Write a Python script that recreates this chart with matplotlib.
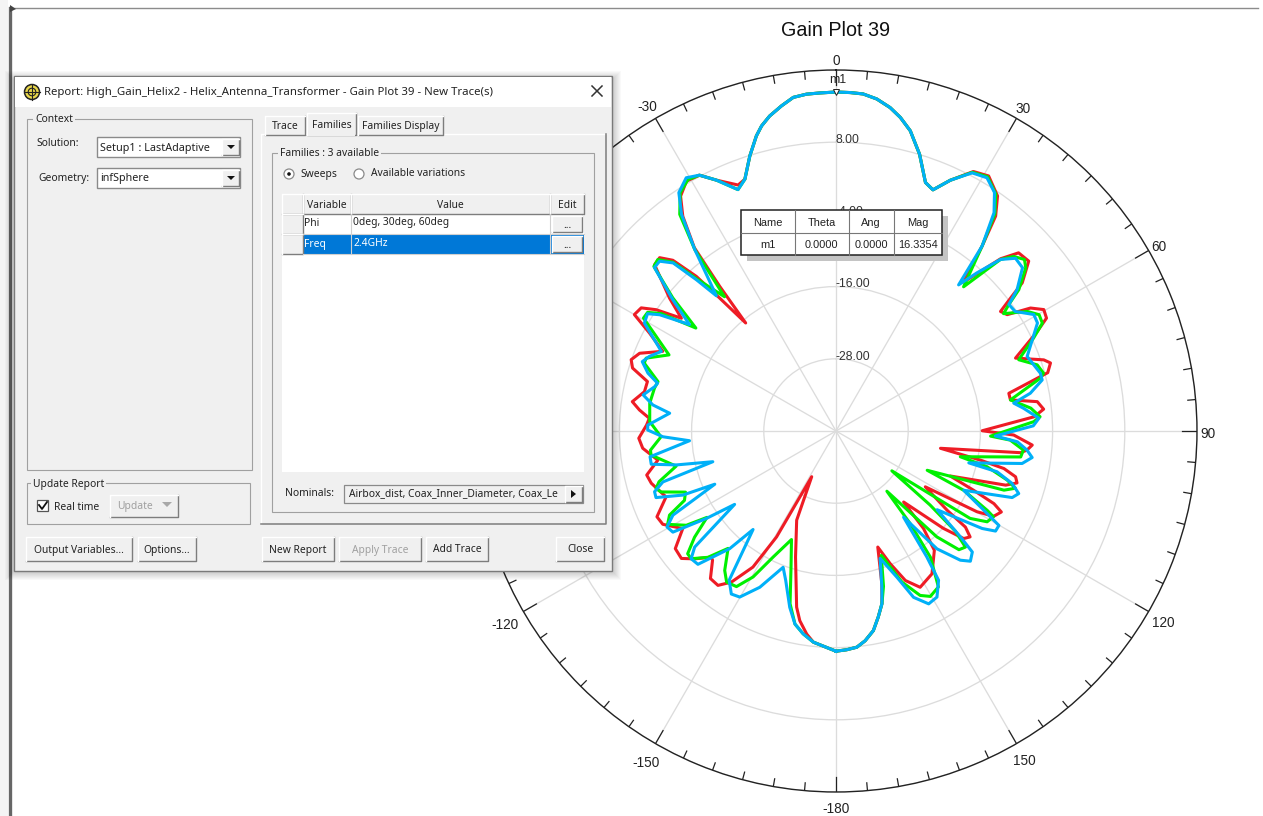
import numpy as np
import matplotlib
matplotlib.use("Agg")
import matplotlib.pyplot as plt
from matplotlib.patches import Rectangle, Circle, Polygon

plt.rcParams['font.family'] = ['Liberation Sans', 'DejaVu Sans']

# gain traces, theta in deg, gain in dB
# the three phi cuts overlap around theta 0 and theta 180
low_theta = [-180, -177.5, -173.9]
low_gain = [-3.4, -4, -4.7]
top_theta = [-19.9, -17.4, -15.1, -13.7, -11.9, -9.5, -7.3, -5, -2.7, 0, 2.4, 4.6, 7, 9.5, 11.6, 13.9, 15.3, 16.8, 19.8, 21.9, 24.5]
top_gain = [4.5, 7.9, 10.8, 12.2, 13.5, 14.8, 15.9, 16.2, 16.25, 16.34, 16.3, 16.2, 15.6, 14.5, 13.2, 11.4, 9.7, 8.05, 3.9, 3.2, 5.8]
end_theta = [165.1, 167.2, 169.4, 172.1, 174.5, 177.2, 180]
end_gain = [-10.3, -8.3, -6.25, -4.8, -3.9, -3.6, -3.4]

red_left_theta = [-171.8, -169.2, -167.4, -162.2, -156.2, -152, -150.7, -148.6, -145.3, -142.6, -139.6, -136.3, -135.3, -132.1,
                  -129.5, -126.2, -122.5, -118.3, -115.6, -111.2, -105.8, -103.1, -99.3, -95.1, -92.1, -88.2, -86.1, -83.9, -81.8, -78.4,
                  -75.3, -72.8, -70.8, -68.4, -65.3, -62.3, -60, -57.7, -56, -53.9, -51.4, -47.5, -45.5, -43.7, -42.1, -41.2,
                  -39.9, -38.8, -37.7, -35.5, -33.5, -30.9, -28.1, -25.5, -21.7]
red_left_gain = [-5.9, -7.9, -10, -18, -23.8, -31.4, -19.8, -13.5, -9.45, -7.7, -7.8, -10.3, -10.5, -8.3,
                 -6.7, -6.9, -9.8, -7.3, -7, -9.7, -8.1, -7.7, -10, -7.75, -7.2, -8.5, -8.9, -7.15, -5.8, -7.5,
                 -7.6, -4.6, -3.95, -4.9, -8.3, -5, -1.3, -1.7, -3.95, -8.2, -4.6, 0.9, 1.1, -0.75, -5.35, -10.6,
                 -16.6, -9.15, -1.5, 3.85, 6.8, 8.4, 8.2, 6.2, 4]
red_right_theta = [27.9, 30.9, 34.5, 36.6, 38.3, 40.6, 43.7, 45.7, 48.6, 51.5, 52.7, 54, 55.8, 57.7, 59.7, 61.8,
                   63.7, 67.9, 71.1, 72.4, 74.6, 77.7, 79.9, 81.7, 84, 85.9, 89.9, 91.3, 94.1, 95.7, 96.7, 99.4,
                   101.4, 102.6, 104.3, 106, 107.7, 111.5, 113.3, 114.7, 116.1, 118.4, 119.8, 122, 125.5, 126.6, 128.3, 130.1,
                   132.2, 136.4, 138.1, 140.5, 146.1, 151.7, 155.1, 157.8, 160.2, 163.3]
red_right_gain = [8.8, 9.4, 7.4, 4.5, -0.8, -7.4, -0.4, 2.4, 2.7, -0.45, -3.5, -6.2, -5.6, -1.75, 0, -0.3,
                  -2.7, -7.8, -3.5, -2.6, -3.5, -10.6, -10.55, -6.2, -5.3, -7, -15.7, -10.45, -7.3, -8.1, -9.1, -22.4,
                  -15.5, -11.4, -9.2, -8.7, -10.4, -19.6, -15.1, -11.1, -9.4, -10.2, -13, -22.5, -17.3, -13.2, -11.6, -12.25,
                  -15.9, -23.7, -18.2, -14.3, -11.4, -10.5, -12.6, -16.2, -19.5, -13.5]

green_left_theta = [-170.8, -168, -165.1, -161.7, -157.7, -153.5, -150.4, -147.4, -144.1, -141.4, -137.4, -134.6, -131.4, -129.6, -126.9,
                    -123.8, -122.2, -119, -116.8, -114.6, -112.1, -109.2, -107.7, -106, -102.4, -97.4, -95.9, -91.9, -87.1, -81.5, -76.7,
                    -74.5, -70.5, -69, -65.5, -59.6, -57.8, -56.1, -53.7, -50.8, -47.9, -46.1, -44, -42.4, -39.7, -37.9, -35.8,
                    -33.2, -30.5, -28.1, -25.5, -22.1]
green_left_gain = [-5.85, -7.2, -10.3, -16.2, -20.5, -16.6, -12.1, -9.3, -9, -10.35, -13.5, -10.1, -7.9, -8, -10.6,
                   -14.2, -10.6, -8, -9, -12.3, -13, -9.2, -8.6, -9.4, -12.8, -9, -9, -10.9, -9, -8.7, -9,
                   -9.3, -6.2, -6.2, -9.5, -2.9, -3, -5, -11.1, -5, 0.8, 1.1, -1, -5.9, -11, -1.8, 4.4,
                   7.3, 8.5, 8.2, 6.2, 3.3]
green_right_theta = [27.8, 30.8, 34, 36.2, 38.3, 41.5, 43.8, 45.5, 47.7, 49.3, 52.3, 53.8, 55, 58, 60.2, 62.4,
                     64.8, 68.7, 71.8, 74.4, 75.5, 79.9, 83.3, 86, 87.3, 91.9, 93, 95.8, 98, 101.7, 103.3, 106,
                     107.7, 109.4, 113.3, 114.9, 117.7, 118.6, 121, 123.1, 125.5, 128.2, 130, 131.9, 134, 136.4, 139.8, 141.3,
                     143.2, 146.7, 150.3, 152.9, 156.4, 160, 163]
green_right_gain = [8.6, 9.2, 7.5, 4.7, -0.8, -8, -0.5, 1.4, 2.35, 1.6, -1.6, -4.4, -6, -2.5, -1.1, -1.3,
                    -3.7, -7.4, -4.8, -4.2, -4.9, -10.55, -7.4, -6, -7.1, -14.3, -11, -8.7, -9, -18.9, -14.2, -10.4,
                    -8.7, -10.4, -23.5, -16.6, -11.6, -10.2, -10.7, -13.4, -28.6, -20.1, -14.1, -11.1, -11.6, -15.7, -26.9, -20.3,
                    -13.8, -9, -8.35, -9.3, -12.6, -18, -13]

blue_left_theta = [-170.8, -168, -165.3, -161.4, -158.8, -154, -149.9, -147.3, -144.4, -139.9, -137.9, -134, -131.4, -129.4, -125.9, -124,
                   -121.8, -119.6, -117.3, -113.7, -112.7, -110.3, -108.5, -106.4, -104, -102, -100.2, -97.9, -93.8, -91.9, -89.7, -88.2,
                   -83.9, -81.9, -79.4, -76.2, -75, -72.9, -70.3, -68.2, -65.5, -60.6, -58.1, -56.6, -54, -51.2, -48, -46.1,
                   -44.1, -42.7, -41.5, -37.9, -35.5, -33.4, -30.6, -28.1, -25.5, -22.1]
blue_left_gain = [-5.85, -7.2, -9.7, -13.8, -15.7, -11.1, -8.1, -7.8, -9.5, -18.6, -13.65, -8.1, -7.9, -9.6, -19.2, -14,
                  -8.1, -7.7, -9.5, -18, -12.4, -8.1, -8.2, -10, -18.9, -12.9, -8.8, -8.8, -15.6, -11.2, -8.7, -8.7,
                  -12.2, -9.25, -7.4, -9, -9.3, -7.3, -5.8, -6.6, -8.1, -3.45, -3.1, -4.9, -9.9, -5.2, 0.6, 0.7,
                  -1.1, -5.8, -10, -1.8, 4.2, 7.45, 8.9, 8.2, 6.2, 3.3]
blue_right_theta = [27.8, 30.8, 33.6, 35.9, 38.3, 40, 41.7, 43.8, 46.1, 48.8, 52, 53.8, 56.3, 59.5, 61.8, 68.7,
                    74.2, 76.1, 79, 81.1, 83.1, 86.4, 88.5, 91.8, 93.4, 95.7, 97.7, 99.9, 103.5, 104.2, 106.6, 108.9,
                    110.7, 114.9, 118.2, 120.1, 122.1, 123.7, 127.9, 130.4, 131.6, 134.1, 136.1, 139.4, 141.9, 144.2, 145.5, 148.7,
                    151.8, 155, 157.4, 160.9, 163.6]
blue_right_gain = [8.5, 9, 7.6, 4.8, -0.8, -8.3, -4.8, -0.5, 1.4, 1.2, -1.8, -4.4, -4.2, -1.85, -2, -5.9,
                   -4.7, -4.7, -7.1, -10.1, -8.6, -6.2, -7.2, -13.5, -9.8, -8.1, -7.1, -8.6, -17.3, -12.4, -9.45, -7.9,
                   -8.7, -16.6, -12.1, -8.7, -8.7, -10.8, -18.7, -12.8, -9.7, -8.9, -10.2, -14.2, -21.8, -14.2, -9.9, -7.7,
                   -7.4, -9.5, -13.7, -17.6, -13]

r_ticks = [-28, -16, -4, 8]
theta_ticks = [0, 30, 60, 90, 120, 150, -180, -150, -120, -90, -60, -30]
theta_label_r = [22, 22.3, 22, 21.8, 22.8, 22.75, 22.3, 23.2, 23.5, 22, 22, 22.8]

marker_headers = ["Name", "Theta", "Ang", "Mag"]
marker_values = ["m1", "0.0000", "0.0000", "16.3354"]

W, H = 1263, 816
fig = plt.figure(figsize=(W/100, H/100), dpi=100, facecolor='white')

# polar plot
cx, cy, R = 836, 431, 361
ax = fig.add_axes([(cx-R)/W, (H-cy-R)/H, 2*R/W, 2*R/H], projection='polar')
ax.set_theta_zero_location('N')
ax.set_theta_direction(-1)
ax.set_rlim(-40, 20)
ax.set_thetagrids(np.arange(0, 360, 30), labels=[''] * 12)
ax.set_rgrids(r_ticks + [20], labels=[''] * 5)
ax.grid(True, color='#dcdcdc', lw=0.95)
ax.tick_params(axis='y', length=0)
ax.spines['polar'].set_linewidth(1.0)
ax.spines['polar'].set_color('#222222')

# tick marks on the rim, the long ones at each 30 deg
for a in range(0, 360, 5):
    ln = 2.5 if a % 30 == 0 else 1.3
    ax.plot([np.radians(a)] * 2, [20-ln, 20], color='#222222', lw=0.9)


def trace(left_t, left_g, right_t, right_g):
    t = low_theta + left_t + top_theta + right_t + end_theta
    g = low_gain + left_g + top_gain + right_g + end_gain
    return np.radians(t), g


ax.plot(*trace(red_left_theta, red_left_gain, red_right_theta, red_right_gain), color='#ee1c25', lw=2.2)
ax.plot(*trace(green_left_theta, green_left_gain, green_right_theta, green_right_gain), color='#00f000', lw=2.2)
ax.plot(*trace(blue_left_theta, blue_left_gain, blue_right_theta, blue_right_gain), color='#00b0f8', lw=2.2)
ax.set_rlim(-40, 20)

for t, rr in zip(theta_ticks, theta_label_r):
    ax.annotate(str(t), (np.radians(t), rr), xytext=(0, -2), textcoords='offset points', ha='center', va='center',
                fontsize=9.8, color='#222222', annotation_clip=False)
for v in r_ticks:
    ax.annotate(f"{v:.2f}", (0, v), xytext=(0, -2.8), textcoords='offset points', ha='left', va='bottom',
                fontsize=8.8, color='#333333')
ax.plot([0], [16.34], marker='v', ms=5, mfc='white', mec='#222222', mew=0.7, clip_on=False)
ax.annotate("m1", (0, 16.34), xytext=(1, 9), textcoords='offset points', ha='center', va='center', fontsize=8.8, color='#222222')

fig.text(cx/W, 1-31/H, "Gain Plot 39", ha='center', va='center', fontsize=14.2, color='#111111')

# everything else is a screenshot overlay, in pixels
ui = fig.add_axes([0, 0, 1, 1], facecolor='none')
ui.set_xlim(0, W)
ui.set_ylim(H, 0)
ui.axis('off')

UI_FONT = ['Noto Sans', 'DejaVu Sans']
EDGE = '#a0a0a0'


def box(x0, y0, x1, y1, fc='#f0f0f0', ec='none', lw=0.8, z=5, alpha=None):
    ui.add_patch(Rectangle((x0, y0), x1-x0, y1-y0, fc=fc, ec=ec, lw=lw, zorder=z, alpha=alpha))


def label(x, y, s, size=7.4, color='#222222', ha='left', z=9):
    ui.text(x, y+1, s, fontsize=size, color=color, ha=ha, va='center', family=UI_FONT, zorder=z)


def button(x0, y0, x1, y1, s='', disabled=False, z=6, fc='#f0f0f0'):
    box(x0, y0, x1, y1, fc=fc, z=z)
    ui.plot([x0, x1, x1], [y1, y1, y0], color='#7d7d7d', lw=1.0, zorder=z+0.1)
    ui.plot([x0, x0, x1], [y1, y0, y0], color='#ffffff', lw=1.0, zorder=z+0.1)
    if s:
        label((x0+x1)/2, (y0+y1)/2, s, ha='center', color='#a0a0a0' if disabled else '#222222', z=z+1)


def group(x0, y0, x1, y1, s, tx):
    ui.add_patch(Rectangle((x0, y0), x1-x0, y1-y0, fc='none', ec=EDGE, lw=0.8, zorder=6))
    ui.text(tx, y0+1, s, fontsize=7.4, color='#222222', ha='left', va='center', family=UI_FONT, zorder=9,
            bbox=dict(fc='#f0f0f0', ec='none', pad=1.2))


# window frame of the screenshot
box(0, 0, 8, H, fc='#f4f4f4', z=1.5)
ui.plot([10, W-5], [8, 8], color='#8c8c8c', lw=1, zorder=2)
ui.plot([9.5, 9.5], [8, H], color='#666666', lw=2.4, zorder=2)
ui.add_patch(Polygon([[10, 5], [16, 9], [10, 12]], fc='#444444', ec='none', zorder=2))

# soft shadow of the dialog
for i in range(1, 10):
    box(14-i, 76-i+4, 612+i, 571+i, fc='#000000', z=3, alpha=0.022)

box(14, 76, 612, 571, fc='#f0f0f0', ec='#7a7a7a', lw=1.0, z=4)
box(15, 77, 611, 107, fc='#ffffff', z=4.5)

# title bar
ui.add_patch(Circle((32, 92), 7.5, fc='#e8d64a', ec='#222222', lw=1.1, zorder=6))
ui.plot([24.5, 39.5], [92, 92], color='#222222', lw=0.8, zorder=7)
ui.plot([32, 32], [84.5, 99.5], color='#222222', lw=0.8, zorder=7)
ui.add_patch(Circle((32, 92), 3.8, fc='none', ec='#222222', lw=0.8, zorder=7))
label(44, 91, "Report: High_Gain_Helix2 - Helix_Antenna_Transformer - Gain Plot 39 - New Trace(s)", size=8.2)
ui.plot([592, 602], [86, 96], color='#333333', lw=1.1, zorder=7)
ui.plot([592, 602], [96, 86], color='#333333', lw=1.1, zorder=7)

# left column
group(27, 119, 252, 470, "Context", 35)
label(36, 143, "Solution:")
label(38, 177, "Geometry:")
for y0, s in [(137, "Setup1 : LastAdaptive"), (168, "infSphere")]:
    box(97, y0, 240, y0+20, fc='#ffffff', ec='#8a8a8a', lw=1.0, z=6)
    label(100, y0+10, s, size=7.8)
    button(222, y0+2, 239, y0+18)
    ui.add_patch(Polygon([[227, y0+8], [235, y0+8], [231, y0+12]], fc='#111111', ec='none', zorder=8))
group(27, 483, 250, 524, "Update Report", 33)
box(37, 500, 48, 511, fc='#ffffff', ec='#555555', lw=0.9, z=6)
ui.plot([39, 42, 47], [505, 509, 502], color='#111111', lw=1.3, zorder=7)
label(54, 506, "Real time")
button(110, 495, 178, 517, disabled=True)
label(135, 505, "Update", color='#a0a0a0', ha='center')
ui.add_patch(Polygon([[162, 502], [172, 502], [167, 507]], fc='#a8a8a8', ec='none', zorder=8))

# tabs
button(265, 116, 305, 135, "Trace")
button(358, 116, 443, 135, "Families Display")
button(307, 113, 356, 135, "Families")
box(261, 134, 606, 524, fc='#f0f0f0', z=5)
ui.plot([261, 261, 307], [524, 134, 134], color='#ffffff', lw=1, zorder=5.5)
ui.plot([356, 606], [134, 134], color='#ffffff', lw=1, zorder=5.5)
ui.plot([261, 606, 606], [524, 524, 134], color='#7d7d7d', lw=1.1, zorder=5.5)
box(308, 130, 355, 136, fc='#f0f0f0', z=7)

group(272, 153, 594, 512, "Families : 3 available", 280)
ui.add_patch(Circle((289, 174), 5, fc='#ffffff', ec='#8a8a8a', lw=0.9, zorder=6))
ui.add_patch(Circle((289, 174), 1.8, fc='#111111', ec='none', zorder=7))
label(300, 173, "Sweeps")
ui.add_patch(Circle((359, 174), 5, fc='#ffffff', ec='#8a8a8a', lw=0.9, zorder=6))
label(371, 173, "Available variations")

# families table
box(282, 194, 584, 472, fc='#ffffff', z=6)
button(282, 194, 303, 214, z=6.2)
button(303, 194, 351, 214, "Variable", z=6.2)
button(351, 194, 550, 214, "Value", z=6.2)
button(550, 194, 584, 214, "Edit", z=6.2)
button(282, 214, 303, 234, z=6.2)
button(282, 234, 303, 254, z=6.2)
box(303, 234, 584, 254, fc='#0078d7', z=6.2)
ui.plot([303, 584], [234, 234], color='#d0d0d0', lw=0.8, zorder=6.3)
ui.plot([303, 584], [254, 254], color='#d0d0d0', lw=0.8, zorder=6.3)
ui.plot([351, 351], [214, 254], color='#d0d0d0', lw=0.8, zorder=6.3)
ui.plot([550, 550], [214, 254], color='#d0d0d0', lw=0.8, zorder=6.3)
label(304, 222, "Phi")
label(353, 222, "0deg, 30deg, 60deg")
label(304, 243, "Freq", color='#ffffff')
label(353, 243, "2.4GHz", color='#ffffff')
button(552, 216, 582, 232, "...", z=6.5)
button(552, 236, 582, 252, "...", z=6.5)

# nominals
label(285, 493, "Nominals:")
box(344, 485, 583, 503, fc='#f0f0f0', ec='#8a8a8a', lw=0.9, z=6)
label(349, 493, "Airbox_dist, Coax_Inner_Diameter, Coax_Le", z=6.5)
button(565, 486, 582, 502, z=7)
ui.add_patch(Polygon([[571, 490], [571, 498], [576, 494]], fc='#111111', ec='none', zorder=8.5))

# bottom buttons
button(26, 537, 132, 561, "Output Variables...")
button(138, 537, 196, 561, "Options...")
button(262, 537, 334, 561, "New Report")
button(339, 537, 421, 561, "Apply Trace", disabled=True)
button(426, 537, 488, 561, "Add Trace")
button(556, 537, 604, 561, "Close")

# marker table
box(747, 216, 948, 261, fc='#c4c4c4', z=3)
box(741, 210, 942, 255, fc='#ffffff', ec='#222222', lw=1.1, z=3.2)
ui.plot([741, 942], [232.5, 232.5], color='#777777', lw=0.8, zorder=3.4)
col_edges = [741, 794.5, 848.5, 893.5, 942]
for x in col_edges[1:-1]:
    ui.plot([x, x], [210, 255], color='#777777', lw=0.8, zorder=3.4)
for i in range(4):
    xc = (col_edges[i] + col_edges[i+1]) / 2
    ui.text(xc, 223, marker_headers[i], fontsize=7.9, ha='center', va='center', color='#222222', zorder=3.5)
    ui.text(xc, 245, marker_values[i], fontsize=7.9, ha='center', va='center', color='#222222', zorder=3.5)

fig.savefig('out.png', dpi=100)
